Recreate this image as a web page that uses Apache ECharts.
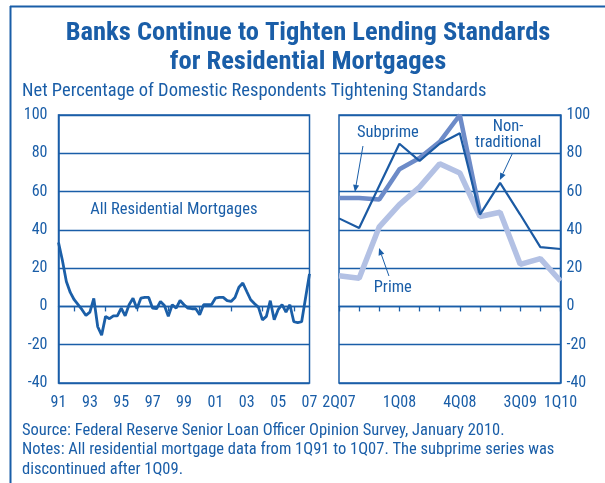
<!DOCTYPE html>
<html>
<head>
<meta charset="utf-8">
<script src="https://cdn.jsdelivr.net/npm/echarts@6/dist/echarts.min.js"></script>
<style>
html,body{margin:0;padding:0;background:#fff;}
#c{width:605px;height:483px;}
</style>
</head>
<body>
<div id="c"></div>
<script>
// ---------- data ----------
// Left panel: All residential mortgages, quarterly 1Q91..1Q07
const leftTickLabels = ['91','93','95','97','99','01','03','05','07'];
const allResidential = [
  33.4, 24, 13, 7.3, 3.5, 0.9, -1.7, -4.7, -3, 4.2,
  -10.6, -15, -5.2, -6.4, -4.9, -4.9, -0.9, -4.9, 0.9, 4.3,
  -1.2, 4.3, 4.7, 4.7, -0.9, -1.2, 2.6, 0.5, -5.2, 0.9,
  -0.9, 3.1, 0.9, -0.9, -1.2, -1.2, -4.3, 0.9, 0.9, 0.9,
  4.3, 4.7, 4.7, 3, 2.6, 4.7, 10, 12.2, 7.8, 3.5,
  1.4, -0.5, -7, -5.2, 3, -7, -1.7, 0.9, -3, 0.9,
  -8, -8.5, -8, 4.5, 17
];
const leftCategories = [];
for (let y = 1991; y <= 2007; y++) {
  for (let q = 1; q <= 4; q++) {
    if (y === 2007 && q > 1) break;
    leftCategories.push(q + 'Q' + String(y).slice(2));
  }
}
// Right panel: 2Q07..1Q10
const rightCategories = ['2Q07','3Q07','4Q07','1Q08','2Q08','3Q08','4Q08','1Q09','2Q09','3Q09','4Q09','1Q10'];
const rightTickLabels = {0:'2Q07', 3:'1Q08', 6:'4Q08', 9:'3Q09', 11:'1Q10'};
const nonTraditional = [46, 41, 63, 85, 76, 85, 90.5, 48, 64.5, 48, 31, 30];
const subprime = [56.7, 56.7, 55.8, 71.7, 77.5, 86, 100, 48.9, null, null, null, null];
const prime = [16, 14.7, 41.6, 53.2, 62.4, 74.5, 69.7, 47, 49.2, 22, 25, 13.3];
const yTicks = {min: -40, max: 100, interval: 20};

// ---------- style ----------
const BLUE = '#1a5ea8';
const FONT = '"Liberation Sans Narrow", "Roboto Condensed", "DejaVu Sans Condensed", "Liberation Sans", sans-serif';

const chart = echarts.init(document.getElementById('c'), null, {renderer: 'canvas'});

function yAxisCfg(gridIndex, position) {
  return {
    type: 'value', gridIndex, position,
    min: yTicks.min, max: yTicks.max, interval: yTicks.interval,
    axisLine: {show: true, lineStyle: {color: BLUE, width: 1.5}},
    axisTick: {show: false},
    splitLine: {show: true, lineStyle: {color: BLUE, width: 1.3}},
    axisLabel: {
      color: BLUE, fontFamily: FONT, fontSize: 16,
      margin: position === 'left' ? 11 : 6
    }
  };
}
function labelAxis(gridIndex, data, showFn, fmt) {
  return {
    type: 'category', gridIndex, data, boundaryGap: false, position: 'bottom',
    axisLine: {show: false, onZero: false},
    axisTick: {show: false},
    axisLabel: {interval: showFn, formatter: fmt, color: BLUE, fontFamily: FONT, fontSize: 16, margin: 12},
    splitLine: {show: false}
  };
}
function zeroAxis(gridIndex, data, tickFn) {
  return {
    type: 'category', gridIndex, data, boundaryGap: false, position: 'bottom',
    axisLine: {show: true, onZero: true, lineStyle: {color: BLUE, width: 1.3}},
    axisTick: {show: true, length: 5, interval: tickFn, lineStyle: {color: BLUE, width: 1.3}},
    axisLabel: {show: false},
    splitLine: {show: false}
  };
}

const option = {
  animation: false,
  backgroundColor: '#fff',
  title: [
    {
      text: 'Banks Continue to Tighten Lending Standards\nfor Residential Mortgages',
      left: 308, top: 19, padding: 0, textAlign: 'center',
      textStyle: {color: BLUE, fontFamily: FONT, fontWeight: 'bold', fontSize: 26.5, lineHeight: 29}
    },
    {
      text: 'Net Percentage of Domestic Respondents Tightening Standards',
      left: 22, top: 82, padding: 0,
      textStyle: {color: BLUE, fontFamily: FONT, fontWeight: 'normal', fontSize: 18.5}
    },
    {
      text: 'Source: Federal Reserve Senior Loan Officer Opinion Survey, January 2010.\nNotes: All residential mortgage data from 1Q91 to 1Q07. The subprime series was\ndiscontinued after 1Q09.',
      left: 22, top: 421, padding: 0,
      textStyle: {color: BLUE, fontFamily: FONT, fontWeight: 'normal', fontSize: 16.5, lineHeight: 19.5}
    }
  ],
  grid: [
    {left: 58.5, top: 115, width: 251, height: 268, show: true, borderColor: BLUE, borderWidth: 1.5,
     backgroundColor: 'transparent', containLabel: false, outerBoundsMode: 'none'},
    {left: 339, top: 115, width: 221.5, height: 268, show: true, borderColor: BLUE, borderWidth: 1.5,
     backgroundColor: 'transparent', containLabel: false, outerBoundsMode: 'none'}
  ],
  xAxis: [
    labelAxis(0, leftCategories, (i) => i % 8 === 0, (v, i) => leftTickLabels[i / 8]),
    labelAxis(1, rightCategories, (i) => rightTickLabels[i] !== undefined, (v, i) => rightTickLabels[i]),
    zeroAxis(0, leftCategories, (i) => i % 8 === 4),
    zeroAxis(1, rightCategories, 0)
  ],
  yAxis: [yAxisCfg(0, 'left'), yAxisCfg(1, 'right')],
  series: [
    {
      name: 'All Residential Mortgages', type: 'line', xAxisIndex: 0, yAxisIndex: 0,
      data: allResidential, symbol: 'none', z: 5,
      lineStyle: {color: '#1b5fa8', width: 2.8}
    },
    {
      name: 'Prime', type: 'line', xAxisIndex: 1, yAxisIndex: 1,
      data: prime, symbol: 'none', z: 3,
      lineStyle: {color: '#b3c1e4', width: 5.5}
    },
    {
      name: 'Subprime', type: 'line', xAxisIndex: 1, yAxisIndex: 1,
      data: subprime, symbol: 'none', z: 4,
      lineStyle: {color: '#6d8bc8', width: 4.5}
    },
    {
      name: 'Non-traditional', type: 'line', xAxisIndex: 1, yAxisIndex: 1,
      data: nonTraditional, symbol: 'none', z: 5,
      lineStyle: {color: '#1b5aa3', width: 2.2}
    }
  ]
};
chart.setOption(option);

// ---------- annotations anchored in data space ----------
function px(gridIndex, xi, v) {
  const i0 = Math.floor(xi), f = xi - i0;
  const a = chart.convertToPixel({gridIndex}, [i0, v]);
  const b = chart.convertToPixel({gridIndex}, [i0 + 1, v]);
  return [a[0] + f * (b[0] - a[0]), a[1]];
}
function label(p, text) {
  return {
    type: 'text', x: p[0], y: p[1], z: 20,
    style: {text, fill: BLUE, font: '16.5px ' + FONT, align: 'center', verticalAlign: 'middle', lineHeight: 16}
  };
}
function arrow(p1, p2) {
  const dx = p2[0] - p1[0], dy = p2[1] - p1[1];
  const L = Math.sqrt(dx * dx + dy * dy), ux = dx / L, uy = dy / L;
  const hl = 7, hw = 3;
  const bx = p2[0] - ux * hl, by = p2[1] - uy * hl;
  return [
    {type: 'line', z: 20, shape: {x1: p1[0], y1: p1[1], x2: bx, y2: by}, style: {stroke: BLUE, lineWidth: 1}},
    {type: 'polygon', z: 20, shape: {points: [[p2[0], p2[1]], [bx - uy * hw, by + ux * hw], [bx + uy * hw, by - ux * hw]]}, style: {fill: BLUE}}
  ];
}
const graphics = [
  // frame
  {type: 'line', shape: {x1: 10, y1: 6.5, x2: 605, y2: 6.5}, style: {stroke: BLUE, lineWidth: 2}},
  {type: 'line', shape: {x1: 10.5, y1: 6, x2: 10.5, y2: 483}, style: {stroke: BLUE, lineWidth: 2}},
  label(px(0, 29.4, 50.4), 'All Residential Mortgages'),
  label(px(1, 2.43, 90.6), 'Subprime'),
  label(px(1, 8.4, 89.5), 'Non-\ntraditional'),
  label(px(1, 2.67, 9.6), 'Prime'),
  ...arrow(px(1, 1.19, 83.8), px(1, 0.79, 59.8)),
  ...arrow(px(1, 8.62, 80.1), px(1, 7.99, 66)),
  ...arrow(px(1, 2.48, 15.9), px(1, 1.99, 30.5))
];
chart.setOption({graphic: graphics});
</script>
</body>
</html>
